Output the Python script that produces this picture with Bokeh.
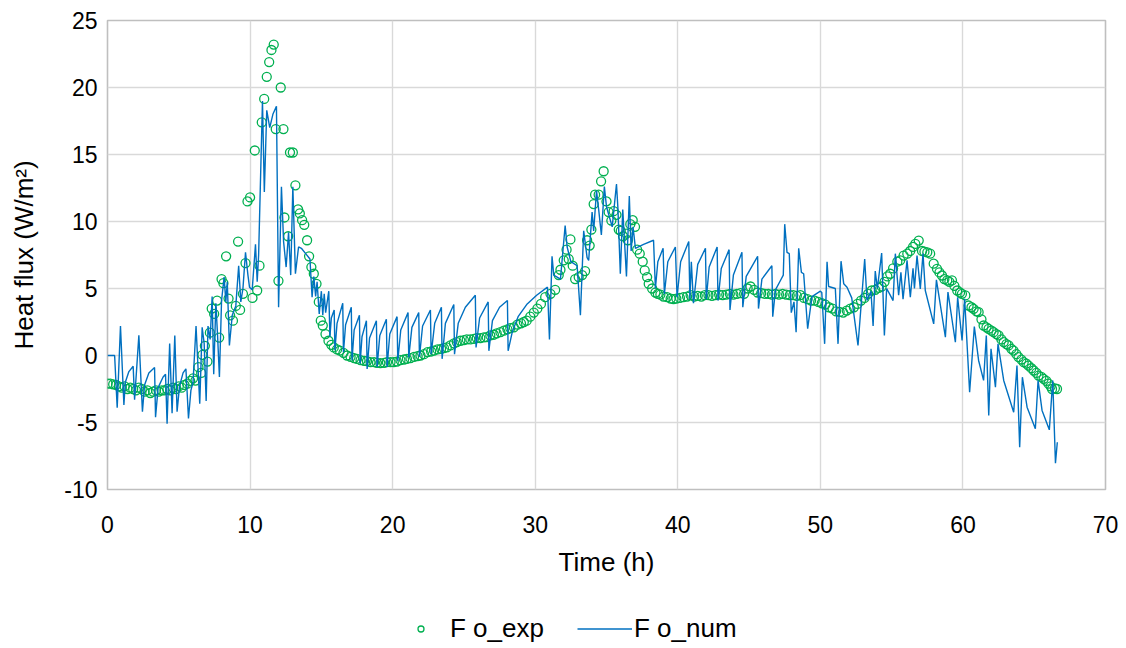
from bokeh.plotting import figure
from bokeh.layouts import column
from bokeh.models import Range1d, Legend, LegendItem, ColumnDataSource, FixedTicker
from bokeh.embed import file_html
from bokeh.resources import INLINE

# ---------------- data ----------------
exp_points = [
    (0.0, -2.1), (0.2, -2.1), (0.4, -2.15), (0.6, -2.2), (0.8, -2.3), (1.0, -2.4), (1.2, -2.3),
    (1.4, -2.5), (1.6, -2.4), (1.8, -2.5), (2.0, -2.6), (2.2, -2.4), (2.4, -2.5), (2.6, -2.7),
    (2.8, -2.6), (3.0, -2.8), (3.2, -2.7), (3.4, -2.6), (3.6, -2.7), (3.8, -2.6), (4.0, -2.6),
    (4.2, -2.5), (4.4, -2.6), (4.6, -2.4), (4.8, -2.5), (5.0, -2.3), (5.2, -2.4), (5.4, -2.2),
    (5.6, -2.1), (5.8, -1.9), (6.0, -1.7),
    (6.17, -1.87), (6.38, -0.87), (6.57, -1.3), (6.66, 0.05), (6.83, 0.72), (7.01, -0.45),
    (7.18, 1.7), (7.31, 3.5), (7.48, 3.1), (7.69, 4.1), (7.83, 1.34), (8.0, 5.7), (8.13, 5.4),
    (8.32, 7.4), (8.49, 4.25), (8.6, 3.0), (8.8, 2.6), (9.0, 3.7), (9.16, 8.5), (9.3, 3.4),
    (9.5, 4.6), (9.68, 6.9), (9.82, 11.5), (10.0, 11.8), (10.17, 4.3), (10.33, 15.3),
    (10.5, 4.85), (10.66, 6.7), (10.82, 17.4), (10.99, 19.15), (11.17, 20.8), (11.34, 21.9),
    (11.5, 22.8), (11.66, 23.2), (11.8, 16.9), (11.99, 5.57), (12.15, 20.0), (12.34, 16.9),
    (12.41, 10.3), (12.67, 8.9), (12.8, 15.15), (13.0, 15.15), (13.18, 12.7), (13.37, 10.9),
    (13.49, 10.6), (13.65, 10.1), (13.8, 9.75), (14.0, 8.6), (14.14, 7.4), (14.3, 6.6),
    (14.47, 6.1), (14.66, 5.35), (14.82, 4.0), (14.96, 2.6), (15.1, 2.24), (15.29, 1.6),
    (15.5, 1.1), (15.7, 0.8), (15.87, 0.6), (16.1, 0.45), (16.3, 0.37), (16.55, 0.2),
    (16.8, 0.0), (17.05, -0.1), (17.3, -0.2), (17.5, -0.25), (17.75, -0.35), (18.0, -0.4),
    (18.2, -0.42), (18.45, -0.5), (18.7, -0.5), (18.9, -0.55), (19.14, -0.57), (19.4, -0.55),
    (19.6, -0.5), (19.85, -0.5), (20.08, -0.5), (20.3, -0.45), (20.55, -0.35), (20.8, -0.3),
    (21.0, -0.25), (21.25, -0.2), (21.5, -0.1), (21.75, -0.05), (21.95, 0.0), (22.2, 0.1),
    (22.45, 0.25), (22.7, 0.3), (22.9, 0.37), (23.15, 0.45), (23.4, 0.5), (23.6, 0.55),
    (23.8, 0.6), (24.05, 0.75), (24.3, 0.9), (24.5, 1.0), (24.75, 1.1), (25.0, 1.15),
    (25.2, 1.2), (25.45, 1.2), (25.7, 1.24), (25.9, 1.3), (26.15, 1.3), (26.4, 1.35),
    (26.6, 1.37), (26.85, 1.5), (27.1, 1.55), (27.3, 1.65), (27.56, 1.74), (27.8, 1.85),
    (28.05, 1.95), (28.25, 2.05), (28.5, 2.1), (28.75, 2.3), (29.0, 2.4), (29.2, 2.5),
    (29.4, 2.6), (29.65, 2.9), (29.9, 3.2), (30.15, 3.5), (30.4, 3.85), (30.7, 4.35),
    (31.07, 4.6), (31.4, 4.9), (31.65, 6.0), (31.77, 6.4), (32.0, 7.1), (32.2, 7.9),
    (32.35, 7.2), (32.47, 8.66), (32.63, 6.7), (32.8, 5.7), (33.05, 5.85), (33.29, 6.0),
    (33.5, 6.3), (33.64, 8.6), (33.82, 8.2), (33.94, 9.4), (34.1, 11.3), (34.2, 12.0),
    (34.45, 12.0), (34.62, 13.0), (34.8, 13.75), (35.0, 11.5), (35.15, 10.7), (35.34, 10.07),
    (35.5, 10.77), (35.7, 10.5), (35.86, 9.4), (36.0, 9.3), (36.16, 8.9), (36.4, 9.1),
    (36.5, 8.6), (36.67, 9.8), (36.84, 10.1), (37.0, 9.6), (37.15, 7.9), (37.33, 7.6),
    (37.54, 7.0), (37.68, 6.35), (37.85, 5.85), (37.96, 5.35), (38.2, 5.0), (38.43, 4.7),
    (38.6, 4.6), (38.78, 4.55), (39.0, 4.4), (39.25, 4.35), (39.5, 4.25), (39.7, 4.2),
    (39.9, 4.25), (40.15, 4.3), (40.4, 4.35), (40.65, 4.4), (40.9, 4.5), (41.15, 4.4),
    (41.4, 4.45), (41.65, 4.4), (41.9, 4.5), (42.15, 4.5), (42.4, 4.45), (42.65, 4.5),
    (42.9, 4.55), (43.15, 4.5), (43.4, 4.55), (43.65, 4.6), (43.9, 4.55), (44.15, 4.6),
    (44.4, 4.65), (44.65, 4.6), (44.9, 5.0), (45.1, 5.15), (45.35, 4.9), (45.6, 4.7),
    (45.85, 4.65), (46.1, 4.6), (46.35, 4.6), (46.6, 4.55), (46.85, 4.6), (47.1, 4.55),
    (47.35, 4.6), (47.6, 4.55), (47.85, 4.5), (48.1, 4.5), (48.35, 4.45), (48.6, 4.5),
    (48.85, 4.3), (49.1, 4.2), (49.35, 4.1), (49.6, 4.1), (49.85, 4.0), (50.1, 3.9),
    (50.35, 3.8), (50.6, 3.6), (50.85, 3.5), (51.1, 3.3), (51.35, 3.25), (51.6, 3.2),
    (51.85, 3.35), (52.1, 3.5), (52.35, 3.6), (52.6, 3.85), (52.85, 4.1), (53.1, 4.3),
    (53.35, 4.6), (53.6, 4.85), (53.85, 4.9), (54.1, 5.05), (54.3, 5.15), (54.5, 5.5),
    (54.7, 5.9), (54.9, 6.1), (55.1, 6.5), (55.4, 7.0), (55.6, 7.1), (55.84, 7.46),
    (56.1, 7.6), (56.3, 7.8), (56.5, 8.1), (56.66, 8.33), (56.9, 8.58), (57.13, 7.8),
    (57.3, 7.75), (57.5, 7.7), (57.7, 7.6), (57.95, 6.85), (58.18, 6.47), (58.35, 6.2),
    (58.53, 5.97), (58.7, 5.7), (58.9, 5.6), (59.05, 5.5), (59.23, 5.6), (59.4, 5.2),
    (59.6, 4.85), (59.8, 4.7), (59.93, 4.6), (60.17, 4.48), (60.4, 3.73), (60.6, 3.6),
    (60.75, 3.48), (60.95, 3.3), (61.1, 3.23), (61.3, 2.7), (61.45, 2.24), (61.65, 2.1),
    (61.8, 1.99), (62.0, 1.85), (62.15, 1.74), (62.35, 1.6), (62.5, 1.5), (62.7, 1.2),
    (62.86, 1.0), (63.05, 0.85), (63.2, 0.75), (63.4, 0.5), (63.55, 0.37), (63.75, 0.1),
    (63.9, -0.12), (64.1, -0.3), (64.26, -0.5), (64.45, -0.6), (64.6, -0.75), (64.8, -0.95),
    (64.96, -1.12), (65.15, -1.3), (65.3, -1.5), (65.5, -1.6), (65.66, -1.74), (65.85, -1.9),
    (66.0, -2.1), (66.15, -2.3), (66.25, -2.5), (66.45, -2.45), (66.6, -2.5),
]

num_points = [
    (0.0, 0.0), (0.5, 0.0), (0.68, -3.9), (0.91, 2.2), (1.15, -3.7), (1.25, -2.0), (1.5, -1.2),
    (1.8, -0.8), (1.9, -3.3), (2.2, 1.5), (2.45, -4.2), (2.6, -2.2), (2.9, -1.3), (3.3, -0.9),
    (3.37, -4.6), (3.55, -2.4), (3.9, -1.6), (4.07, -1.4), (4.18, -5.1), (4.36, 0.9),
    (4.53, -4.3), (4.72, 1.5), (4.88, -4.2), (5.05, -2.3), (5.3, -1.3), (5.5, -1.0),
    (5.68, -4.7), (5.85, -2.6), (6.0, -2.0), (6.21, 2.2), (6.47, -3.6), (6.64, 2.1),
    (6.78, 0.9), (6.92, -3.4), (7.05, 2.2), (7.2, 1.2), (7.34, 4.4), (7.45, -1.4), (7.6, 3.9),
    (7.72, 1.5), (7.85, -1.6), (8.0, 4.1), (8.18, 5.85), (8.3, 4.0), (8.4, 5.5), (8.55, 0.75),
    (8.75, 3.0), (9.0, 3.7), (9.2, 6.7), (9.35, 4.0), (9.5, 5.0), (9.68, 7.7), (9.85, 6.0),
    (9.96, 5.1), (10.15, 4.9), (10.38, 8.3), (10.5, 5.5), (10.6, 7.5), (10.87, 19.0),
    (11.0, 12.2), (11.17, 18.3), (11.38, 17.0), (11.6, 18.0), (11.85, 18.6), (12.0, 3.6),
    (12.2, 12.6), (12.35, 8.5), (12.53, 6.6), (12.7, 9.2), (12.85, 6.0), (13.0, 12.6),
    (13.18, 6.1), (13.4, 8.1), (13.6, 8.0), (13.9, 7.6), (14.2, 7.2), (14.35, 4.35),
    (14.47, 5.9), (14.6, 4.4), (14.7, 5.5), (14.85, 3.1), (15.0, 4.8), (15.1, 3.0),
    (15.2, 4.6), (15.3, 3.2), (15.52, 4.8), (15.6, 1.4), (15.7, 2.8), (15.9, 3.4),
    (15.95, 0.4), (16.1, 2.4), (16.5, 3.9), (16.55, 0.25), (16.7, 2.3), (17.1, 3.6),
    (17.15, -0.35), (17.3, 1.9), (17.67, 3.0), (17.72, -0.6), (17.85, 1.4), (18.16, 2.6),
    (18.21, -1.0), (18.38, 1.3), (18.86, 2.6), (18.91, -0.85), (19.1, 1.5), (19.56, 2.7),
    (19.61, -0.85), (19.8, 1.6), (20.31, 2.9), (20.36, -0.4), (20.57, 1.9), (21.08, 3.2),
    (21.13, -0.15), (21.35, 2.1), (21.83, 3.2), (21.88, -0.1), (22.1, 2.2), (22.65, 3.4),
    (22.7, 0.1), (22.95, 2.4), (23.42, 3.6), (23.47, -0.25), (23.7, 2.4), (24.29, 3.8),
    (24.34, 0.1), (24.6, 2.4), (25.1, 3.6), (25.8, 4.5), (25.85, 0.6), (26.1, 2.8),
    (26.7, 4.0), (26.75, 0.35), (27.0, 2.6), (27.5, 3.6), (28.05, 4.1), (28.1, 0.35),
    (28.4, 1.8), (28.8, 2.9), (29.4, 3.8), (30.1, 4.5), (30.86, 5.1), (31.0, 1.2),
    (31.18, 7.4), (31.3, 6.0), (31.77, 5.7), (32.1, 9.7), (32.24, 8.1), (32.5, 7.0),
    (32.94, 6.7), (33.17, 3.0), (33.4, 9.3), (33.64, 7.3), (33.75, 7.1), (33.99, 10.7),
    (34.1, 9.3), (34.3, 12.3), (34.45, 10.9), (34.64, 9.0), (34.85, 12.6), (35.0, 11.1),
    (35.4, 9.6), (35.7, 12.8), (35.8, 11.0), (35.97, 6.1), (36.14, 10.9), (36.4, 5.9),
    (36.6, 11.9), (36.73, 7.8), (36.86, 9.6), (37.03, 8.0), (37.6, 8.3), (38.3, 8.6),
    (38.43, 5.0), (38.6, 7.0), (38.97, 8.0), (39.06, 4.6), (39.3, 7.0), (39.83, 8.1),
    (39.95, 4.35), (40.2, 7.0), (40.77, 8.5), (40.85, 4.2), (40.95, 7.0), (41.1, 3.9),
    (41.4, 6.8), (41.94, 8.0), (42.0, 4.2), (42.2, 6.6), (42.76, 8.1), (42.82, 4.1),
    (43.05, 6.5), (43.6, 7.9), (43.66, 3.4), (43.9, 6.0), (44.5, 7.7), (44.56, 3.6),
    (44.8, 5.9), (45.6, 7.4), (45.66, 3.5), (45.9, 5.7), (46.6, 6.7), (46.66, 2.9),
    (46.85, 4.9), (47.2, 5.6), (47.4, 6.0), (47.5, 9.8), (47.66, 7.7), (47.82, 7.6),
    (47.96, 3.2), (48.15, 4.0), (48.3, 1.74), (48.48, 8.0), (48.67, 6.2), (48.83, 6.1),
    (49.11, 2.0), (49.41, 4.4), (50.0, 4.8), (50.1, 4.7), (50.3, 0.87), (50.47, 7.0),
    (50.58, 5.15), (51.05, 5.0), (51.24, 0.87), (51.45, 7.04), (51.64, 5.35), (51.87, 5.1),
    (52.2, 4.3), (52.64, 0.75), (53.11, 7.2), (53.27, 4.1), (53.55, 4.8), (53.7, 2.2),
    (53.85, 6.3), (54.0, 5.0), (54.3, 7.65), (54.49, 1.5), (54.65, 5.0), (54.9, 4.5),
    (55.1, 4.1), (55.26, 7.6), (55.49, 4.5), (55.65, 6.2), (55.8, 4.2), (56.08, 7.1),
    (56.31, 4.35), (56.5, 6.5), (56.6, 5.0), (56.78, 7.46), (57.01, 4.97), (57.2, 7.6),
    (57.36, 4.85), (57.95, 2.36), (58.14, 5.65), (58.77, 1.37), (58.95, 4.73), (59.47, 0.99),
    (59.63, 4.35), (59.94, 1.12), (60.12, 4.23), (60.47, -2.74), (60.8, 2.16), (61.1, -0.37),
    (61.45, -1.86), (61.64, 1.49), (61.81, -4.48), (61.97, 0.5), (62.28, -2.36), (62.46, 0.87),
    (62.86, -1.86), (63.56, -4.23), (63.79, -0.75), (63.98, -6.84), (64.17, -1.62),
    (64.5, -3.86), (65.08, -5.47), (65.27, -1.86), (65.55, -4.1), (66.06, -5.55),
    (66.3, -1.86), (66.49, -8.04), (66.62, -6.47),
]

x_ticks = [0, 10, 20, 30, 40, 50, 60, 70]
y_ticks = [-10, -5, 0, 5, 10, 15, 20, 25]
y_tick_text = {-10: "-10", -5: "-5"}
series_labels = ["F o_exp", "F o_num"]
x_title = "Time (h)"
y_title = "Heat flux (W/m\u00b2)"

exp_src = ColumnDataSource(dict(t=[p[0] for p in exp_points], v=[p[1] for p in exp_points]))
num_src = ColumnDataSource(dict(t=[p[0] for p in num_points], v=[p[1] for p in num_points]))

FONT = "Liberation Sans"
GREEN = "#00B050"
BLUE = "#0070C0"
EXP_STYLE = dict(marker="circle", size=9, fill_color=None, line_color=GREEN, line_width=1.3)
NUM_STYLE = dict(line_color=BLUE, line_width=1.4)

# ---------------- main chart ----------------
p = figure(width=1126, height=600, output_backend="svg", toolbar_location=None,
           x_range=Range1d(0, 70), y_range=Range1d(-10, 25),
           min_border_left=107, min_border_right=21, min_border_top=20, min_border_bottom=111)
p.background_fill_color = "white"
p.border_fill_color = "white"
p.outline_line_color = "#bfbfbf"
p.outline_line_width = 1.6

p.scatter("t", "v", source=exp_src, **EXP_STYLE)
p.line("t", "v", source=num_src, **NUM_STYLE)

for ax, ticks in ((p.xaxis[0], x_ticks), (p.yaxis[0], y_ticks)):
    ax.ticker = FixedTicker(ticks=ticks)
    ax.major_tick_line_color = None
    ax.minor_tick_line_color = None
    ax.major_tick_out = 0
    ax.major_tick_in = 0
    ax.axis_line_color = None
    ax.major_label_text_font = FONT
    ax.major_label_text_font_size = "23px"
    ax.major_label_text_color = "#000000"
    ax.axis_label_text_font = FONT
    ax.axis_label_text_font_size = "26px"
    ax.axis_label_text_font_style = "normal"
    ax.axis_label_text_color = "#000000"

p.yaxis.major_label_overrides = y_tick_text
p.xaxis.axis_label = x_title
p.yaxis.axis_label = y_title
p.xaxis.major_label_standoff = 26
p.xaxis.axis_label_standoff = 11
p.yaxis.major_label_standoff = 10
p.yaxis.axis_label_standoff = 22

p.xgrid.ticker = FixedTicker(ticks=x_ticks)
p.ygrid.ticker = FixedTicker(ticks=y_ticks)
for g in (p.xgrid[0], p.ygrid[0]):
    g.grid_line_color = "#d9d9d9"
    g.grid_line_width = 1.4

# ---------------- legend strip below the chart ----------------
# the key renderers reuse the series sources; the strip's ranges lie far from the data,
# so only the legend is visible here
leg = figure(width=1126, height=48, output_backend="svg", toolbar_location=None,
             x_range=Range1d(1000, 1001), y_range=Range1d(1000, 1001),
             x_axis_type=None, y_axis_type=None,
             min_border_left=0, min_border_right=0, min_border_top=0, min_border_bottom=0)
leg.outline_line_color = None
leg.grid.visible = False
exp_key = leg.scatter("t", "v", source=exp_src, **EXP_STYLE)
num_key = leg.line("t", "v", source=num_src, **NUM_STYLE)

legend = Legend(items=[LegendItem(label=series_labels[0], renderers=[exp_key]),
                       LegendItem(label=series_labels[1], renderers=[num_key])],
                orientation="horizontal", location=(286, 4), margin=0,
                padding=0, spacing=33, glyph_width=55, glyph_height=15,
                label_standoff=2, label_height=24,
                border_line_color=None, background_fill_alpha=0,
                label_text_font=FONT, label_text_font_size="26px",
                label_text_color="#000000")
leg.add_layout(legend)

open("out.html", "w").write(file_html(column(p, leg, spacing=0), INLINE))
